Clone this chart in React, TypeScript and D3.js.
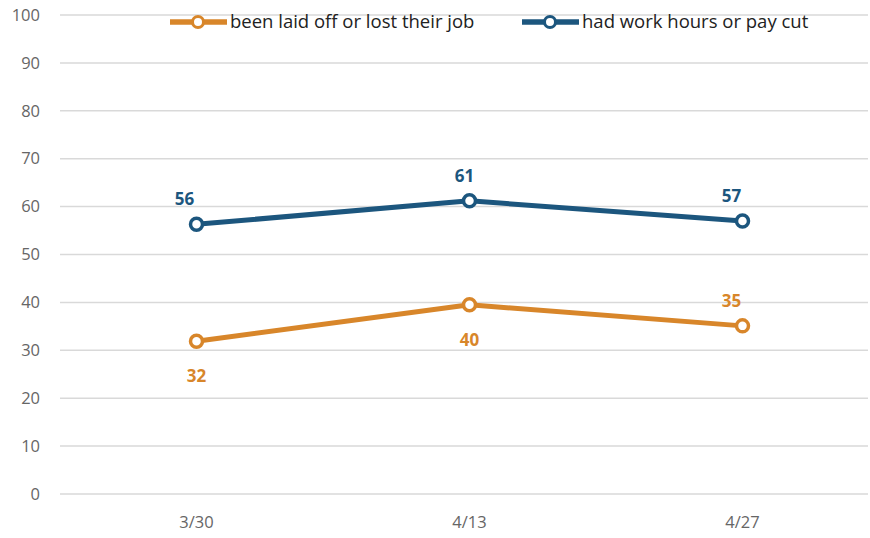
import React from "react";
import * as d3 from "d3";

const categories = ["3/30", "4/13", "4/27"];
const laidOff = [31.9, 39.5, 35.1];
const hoursCut = [56.3, 61.2, 57.0];
const laidOffLabels = ["32", "40", "35"];
const hoursCutLabels = ["56", "61", "57"];
const laidOffLabelPos = ["below", "below", "above"];
const hoursCutLabelPos = ["above", "above", "above"];
const yTicks = [0, 10, 20, 30, 40, 50, 60, 70, 80, 90, 100];
const seriesNames = ["been laid off or lost their job", "had work hours or pay cut"];

// label horizontal nudges (style, not data)
const laidOffLabelDx = [0, 0, -11];
const hoursCutLabelDx = [-12, -5, -11];

const W = 870;
const H = 538;
const ORANGE = "#D8862A";
const BLUE = "#1C567E";
const FONT = "'Open Sans', 'Noto Sans', sans-serif";

export default function App() {
  const x = d3.scalePoint<string>().domain(categories).range([60, 879]).padding(0.5);
  const y = d3.scaleLinear().domain([0, 100]).range([494, 15]);
  const line = d3
    .line<number>()
    .x((_, i) => x(categories[i]) as number)
    .y((d) => y(d));

  const series = [
    { name: seriesNames[0], values: laidOff, labels: laidOffLabels, pos: laidOffLabelPos, dx: laidOffLabelDx, color: ORANGE },
    { name: seriesNames[1], values: hoursCut, labels: hoursCutLabels, pos: hoursCutLabelPos, dx: hoursCutLabelDx, color: BLUE },
  ];

  const legendX = [170, 522];

  return (
    <svg
      width={W}
      height={H}
      style={{ position: "absolute", left: 0, top: 0, background: "#fff" }}
      fontFamily={FONT}
    >
      {yTicks.map((t) => (
        <g key={t}>
          <line x1={60} x2={868} y1={y(t)} y2={y(t)} stroke="#d9d9d9" strokeWidth={1.5} />
          <text x={40} y={y(t)} dy="0.35em" textAnchor="end" fontSize={16.5} fill="#666">
            {t}
          </text>
        </g>
      ))}
      {categories.map((c) => (
        <text key={c} x={x(c)} y={522} dy="0.35em" textAnchor="middle" fontSize={16.5} fill="#666">
          {c}
        </text>
      ))}
      {series.map((s) => (
        <g key={s.name}>
          <path d={line(s.values) || ""} fill="none" stroke={s.color} strokeWidth={5} strokeLinejoin="round" />
          {s.values.map((v, i) => (
            <circle key={i} cx={x(categories[i])} cy={y(v)} r={6} fill="#fff" stroke={s.color} strokeWidth={3.5} />
          ))}
          {s.values.map((v, i) => (
            <text
              key={"l" + i}
              x={(x(categories[i]) as number) + s.dx[i]}
              y={y(v) + (s.pos[i] === "above" ? -25 : 35)}
              dy="0.35em"
              textAnchor="middle"
              fontSize={17}
              fontWeight="bold"
              fill={s.color}
            >
              {s.labels[i]}
            </text>
          ))}
        </g>
      ))}
      {series.map((s, i) => (
        <g key={"lg" + i} transform={`translate(${legendX[i]},22)`}>
          <line x1={0} x2={57} y1={0} y2={0} stroke={s.color} strokeWidth={5.5} />
          <circle cx={28} cy={0} r={5.5} fill="#fff" stroke={s.color} strokeWidth={3} />
          <text x={60} y={0} dy="0.35em" fontSize={18.5} fill="#222">
            {s.name}
          </text>
        </g>
      ))}
    </svg>
  );
}
